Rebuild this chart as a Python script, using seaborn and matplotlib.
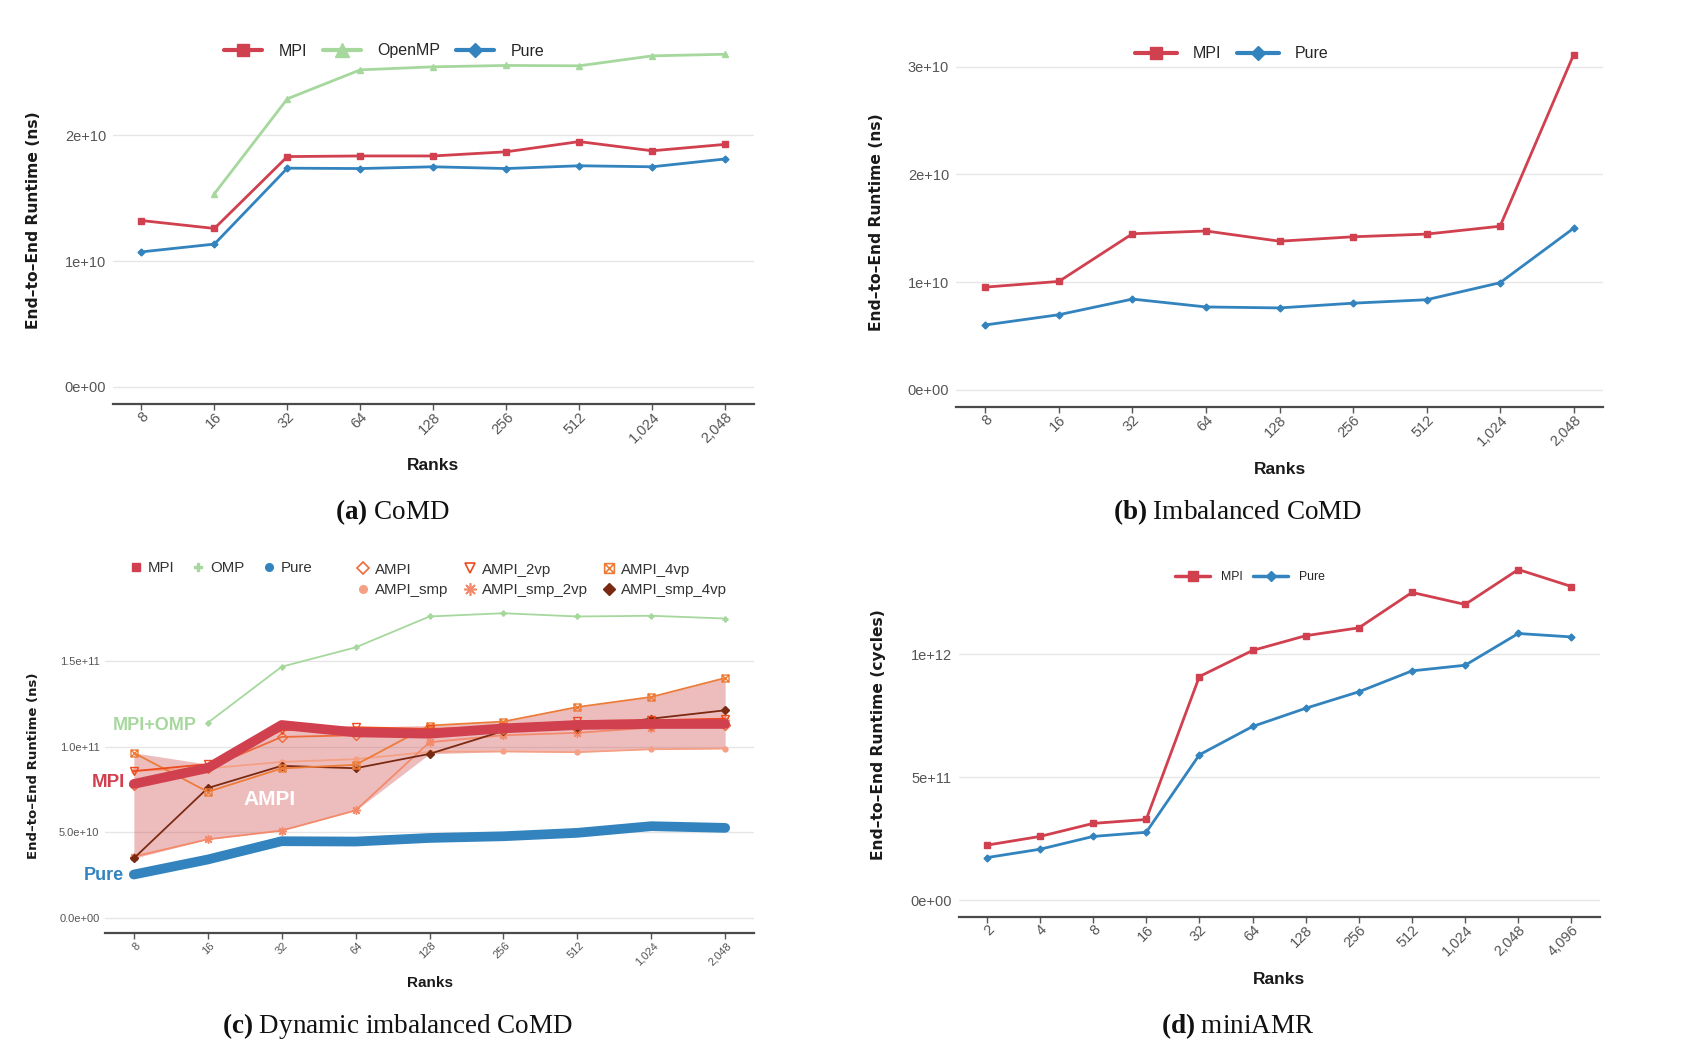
import numpy as np
import pandas as pd
import seaborn as sns
import matplotlib
matplotlib.use("Agg")
import matplotlib.pyplot as plt
from matplotlib.lines import Line2D
from matplotlib.path import Path
from matplotlib.transforms import ScaledTranslation

# ---------------- data ----------------
ranks_abc = ["8", "16", "32", "64", "128", "256", "512", "1,024", "2,048"]
ranks_d = ["2", "4", "8", "16", "32", "64", "128", "256", "512", "1,024", "2,048", "4,096"]

# (a) CoMD  (ns)
a_mpi = [1.322e10, 1.259e10, 1.830e10, 1.835e10, 1.835e10, 1.868e10, 1.949e10, 1.876e10, 1.927e10]
a_openmp = [np.nan, 1.535e10, 2.289e10, 2.519e10, 2.543e10, 2.554e10, 2.551e10, 2.630e10, 2.643e10]
a_pure = [1.073e10, 1.135e10, 1.738e10, 1.735e10, 1.749e10, 1.735e10, 1.757e10, 1.749e10, 1.811e10]

# (b) Imbalanced CoMD (ns)
b_mpi = [0.954e10, 1.007e10, 1.449e10, 1.475e10, 1.380e10, 1.421e10, 1.446e10, 1.519e10, 3.110e10]
b_pure = [0.603e10, 0.698e10, 0.843e10, 0.770e10, 0.761e10, 0.805e10, 0.837e10, 0.995e10, 1.500e10]

# (c) Dynamic imbalanced CoMD (units of 1e9 ns)
c_mpi = [78.3, 87.6, 112.8, 108.5, 107.7, 110.8, 112.8, 113.4, 113.4]
c_omp = [np.nan, 114.1, 146.9, 158.2, 176.3, 178.2, 176.3, 176.7, 175.1]
c_pure = [25.3, 34.1, 44.8, 44.6, 46.7, 47.7, 49.7, 53.6, 52.6]
c_ampi = [77.6, 87.5, 105.8, 106.8, 109.7, 110.7, 111.3, 112.6, 112.6]
c_ampi_2vp = [85.8, 89.9, 109.7, 111.5, 110.5, 111.7, 115.0, 115.6, 116.5]
c_ampi_4vp = [96.5, 73.7, 87.4, 89.5, 112.5, 114.8, 123.3, 129.2, 140.3]
c_ampi_smp = [86.0, 87.4, 91.2, 92.8, 97.1, 97.3, 96.9, 98.6, 99.0]
c_ampi_smp_2vp = [35.8, 45.9, 51.0, 62.8, 102.7, 106.8, 108.2, 111.3, 115.6]
c_ampi_smp_4vp = [34.8, 75.9, 88.9, 87.5, 95.9, 109.3, 110.7, 116.5, 121.4]

# (d) miniAMR (cycles, units of 1e12)
d_mpi = [0.2236, 0.259, 0.312, 0.328, 0.909, 1.015, 1.075, 1.107, 1.251, 1.202, 1.344, 1.275]
d_pure = [0.173, 0.207, 0.259, 0.276, 0.591, 0.706, 0.780, 0.847, 0.932, 0.955, 1.084, 1.070]

yt_a = [0, 1e10, 2e10]; ytl_a = ["0e+00", "1e+10", "2e+10"]
yt_b = [0, 1e10, 2e10, 3e10]; ytl_b = ["0e+00", "1e+10", "2e+10", "3e+10"]
yt_c = [0, 5e10, 1e11, 1.5e11]; ytl_c = ["0.0e+00", "5.0e+10", "1.0e+11", "1.5e+11"]
yt_d = [0, 5e11, 1e12]; ytl_d = ["0e+00", "5e+11", "1e+12"]

# ---------------- style ----------------
sns.set_theme(style="white")
plt.rcParams["font.family"] = ["Liberation Sans", "DejaVu Sans"]
plt.rcParams["mathtext.fontset"] = "custom"
plt.rcParams["mathtext.rm"] = "Liberation Serif"
plt.rcParams["mathtext.bf"] = "Liberation Serif:bold"

C_MPI = "#D1404F"
C_PURE = "#3283BE"
C_OMP = "#A6D89E"
C_AMPI = "#EF6A3A"
C_AMPI2 = "#EE4A1E"
C_AMPI4 = "#EC7C3A"
C_SMP = "#F5A084"
C_SMP2 = "#F48A6C"
C_SMP4 = "#7A2A12"
GRID = "#E6E6E6"
TICKC = "#555555"

sqx = Path([(-1, -1), (1, -1), (1, 1), (-1, 1), (-1, -1), (-1, -1), (1, 1), (-1, 1), (1, -1)],
           [Path.MOVETO, Path.LINETO, Path.LINETO, Path.LINETO, Path.CLOSEPOLY,
            Path.MOVETO, Path.LINETO, Path.MOVETO, Path.LINETO])
AST = (8, 2, 0)

W, H = 1701, 1050
fig = plt.figure(figsize=(W / 100, H / 100), dpi=100)


def make_ax(l, t, r, b):
    return fig.add_axes([l / W, 1 - b / H, (r - l) / W, (b - t) / H])


def style_ax(ax, labels, pad, ymax, yt, ytl, ylab, ylabx, xlabely,
             tick_fs, ylab_fs, xlab_fs, ypad=5):
    n = len(labels)
    ax.set_xlim(-pad, n - 1 + pad)
    ax.set_ylim(-0.05 * ymax, 1.05 * ymax)
    ax.set_yticks(yt)
    ax.set_yticklabels(ytl)
    ax.set_xticks(range(n))
    ax.set_xticklabels(labels)
    for s in ["left", "right", "top"]:
        ax.spines[s].set_visible(False)
    ax.spines["bottom"].set_color("#4A4A4A")
    ax.spines["bottom"].set_linewidth(1.6)
    ax.grid(axis="y", color=GRID, lw=1.0)
    ax.grid(axis="x", visible=False)
    ax.set_axisbelow(True)
    ax.tick_params(axis="x", bottom=True, length=4, width=1, color=TICKC,
                   labelsize=tick_fs, labelcolor=TICKC, pad=4)
    ax.tick_params(axis="y", left=False, length=0, labelsize=tick_fs, labelcolor=TICKC, pad=ypad)
    off = ScaledTranslation(5 / 100, 0, fig.dpi_scale_trans)
    for lab in ax.get_xticklabels():
        lab.set_rotation(45)
        lab.set_ha("right")
        lab.set_va("center")
        lab.set_rotation_mode("anchor")
        lab.set_transform(lab.get_transform() + off)
    ax.set_ylabel(ylab, fontsize=ylab_fs, fontweight="bold", family="DejaVu Sans", color="#1a1a1a")
    ax.yaxis.set_label_coords(ylabx, 0.5)
    ax.set_xlabel("Ranks", fontsize=xlab_fs, fontweight="bold", color="#1a1a1a")
    ax.xaxis.label.set_va("center")
    ax.xaxis.set_label_coords(0.5, xlabely)


def line(ax, vals, color, marker, ms, lw, mfc=None, mew=1.0, z=3):
    df = pd.DataFrame({"x": np.arange(len(vals)), "y": vals}).dropna()
    sns.lineplot(data=df, x="x", y="y", ax=ax, color=color, marker=marker,
                 markersize=ms, linewidth=lw, markeredgecolor=color,
                 markerfacecolor=color if mfc is None else mfc,
                 markeredgewidth=mew, errorbar=None, legend=False, zorder=z)


# ---------------- (a) ----------------
ax_a = make_ax(113, 37.6, 753.5, 403.6)
line(ax_a, a_openmp, C_OMP, "^", 4, 2.0)
line(ax_a, a_mpi, C_MPI, "s", 4.5, 2.0)
line(ax_a, a_pure, C_PURE, "D", 3.5, 2.0)
style_ax(ax_a, ranks_abc, 0.39, np.nanmax(a_openmp), yt_a, ytl_a,
         "End\u2013to\u2013End Runtime (ns)", -0.112, -0.168, 10.5, 11.2, 12.5)

# ---------------- (b) ----------------
ax_b = make_ax(956, 38, 1603, 406.7)
line(ax_b, b_mpi, C_MPI, "s", 4.5, 2.0)
line(ax_b, b_pure, C_PURE, "D", 3.5, 2.0)
style_ax(ax_b, ranks_abc, 0.40, np.nanmax(b_mpi), yt_b, ytl_b,
         "End\u2013to\u2013End Runtime (ns)", -0.111, -0.169, 10.5, 11.2, 12.5)

# ---------------- (c) ----------------
ax_c = make_ax(105, 598, 754, 933)
scale = 1e9
ampi_all = np.array([c_ampi, c_ampi_2vp, c_ampi_4vp, c_ampi_smp, c_ampi_smp_2vp, c_ampi_smp_4vp]) * scale
xs = np.arange(len(ranks_abc))
ax_c.fill_between(xs, np.nanmin(ampi_all, axis=0), np.nanmax(ampi_all, axis=0),
                  color="#CF4A4A", alpha=0.36, lw=0, zorder=1)
line(ax_c, np.array(c_pure) * scale, C_PURE, None, 0, 7.0, z=2)
line(ax_c, np.array(c_omp) * scale, C_OMP, "P", 3.5, 1.3, z=3)
line(ax_c, np.array(c_ampi_smp) * scale, C_SMP, "o", 3.5, 1.3, z=3)
line(ax_c, np.array(c_ampi_smp_2vp) * scale, C_SMP2, AST, 6.5, 1.3, z=3)
line(ax_c, np.array(c_ampi_smp_4vp) * scale, C_SMP4, "D", 4.5, 1.3, z=4)
line(ax_c, np.array(c_ampi) * scale, C_AMPI, "D", 5, 1.3, mfc="none", z=4)
line(ax_c, np.array(c_ampi_4vp) * scale, C_AMPI4, sqx, 5, 1.3, mfc="none", z=4)
line(ax_c, np.array(c_ampi_2vp) * scale, C_AMPI2, "v", 6, 1.3, mfc="none", z=4)
line(ax_c, np.array(c_mpi) * scale, C_MPI, None, 0, 7.0, z=5)
style_ax(ax_c, ranks_abc, 0.39, np.nanmax(np.array(c_omp) * scale), yt_c, ytl_c,
         "End\u2013to\u2013End Runtime (ns)", -0.100, -0.149, 8, 9.5, 11, ypad=4)
ax_c.text(0.85, 112.3e9, "MPI+OMP", color=C_OMP, fontsize=13, fontweight="bold",
          ha="right", va="center", zorder=6)
ax_c.text(-0.12, 79e9, "MPI", color=C_MPI, fontsize=13.5, fontweight="bold",
          ha="right", va="center", clip_on=False, zorder=6)
ax_c.text(-0.135, 24.6e9, "Pure", color=C_PURE, fontsize=13, fontweight="bold",
          ha="right", va="center", clip_on=False, zorder=6)
ax_c.text(1.83, 69e9, "AMPI", color="white", fontsize=15, fontweight="bold",
          ha="center", va="center", zorder=6)

# ---------------- (d) ----------------
ax_d = make_ax(958.6, 553, 1599.6, 916.7)
line(ax_d, np.array(d_mpi) * 1e12, C_MPI, "s", 4.5, 2.0)
line(ax_d, np.array(d_pure) * 1e12, C_PURE, "D", 3.5, 2.0)
style_ax(ax_d, ranks_d, 0.53, np.nanmax(d_mpi) * 1e12, yt_d, ytl_d,
         "End\u2013to\u2013End Runtime (cycles)", -0.113, -0.174, 10.5, 11.2, 12.5)

# ---------------- legends ----------------
def big_handles(names):
    spec = {"MPI": (C_MPI, "s", 9), "OpenMP": (C_OMP, "^", 10), "Pure": (C_PURE, "D", 7)}
    return [Line2D([], [], color=spec[n][0], lw=3, marker=spec[n][1], ms=spec[n][2]) for n in names]

fig.legend(big_handles(["MPI", "OpenMP", "Pure"]), ["MPI", "OpenMP", "Pure"], loc="center",
           bbox_to_anchor=(384 / W, 1 - 51 / H), ncol=3, frameon=False, fontsize=11.5,
           handlelength=2.4, handletextpad=1.0, columnspacing=1.0)
fig.legend(big_handles(["MPI", "Pure"]), ["MPI", "Pure"], loc="center",
           bbox_to_anchor=(1232 / W, 1 - 54 / H), ncol=2, frameon=False, fontsize=11.5,
           handlelength=2.6, handletextpad=1.0, columnspacing=1.0)
hd = [Line2D([], [], color=C_MPI, lw=2.5, marker="s", ms=7),
      Line2D([], [], color=C_PURE, lw=2.5, marker="D", ms=5.5)]
fig.legend(hd, ["MPI", "Pure"], loc="center", bbox_to_anchor=(1250 / W, 1 - 577 / H), ncol=2,
           frameon=False, fontsize=8.8, handlelength=2.9, handletextpad=0.9, columnspacing=0.8)

h1 = [Line2D([], [], ls="none", color=C_MPI, marker="s", ms=5.5),
      Line2D([], [], ls="none", color=C_OMP, marker="P", ms=6),
      Line2D([], [], ls="none", color=C_PURE, marker="o", ms=5.5)]
fig.legend(h1, ["MPI", "OMP", "Pure"], loc="center", bbox_to_anchor=(221 / W, 1 - 568 / H),
           ncol=3, frameon=False, fontsize=10.8, handlelength=0.8, handletextpad=0.4,
           columnspacing=1.2, labelcolor="#333333")
h2 = [Line2D([], [], ls="none", color=C_AMPI, marker="D", ms=6, mfc="none", mew=1.2),
      Line2D([], [], ls="none", color=C_SMP, marker="o", ms=5.5),
      Line2D([], [], ls="none", color=C_AMPI2, marker="v", ms=7, mfc="none", mew=1.2),
      Line2D([], [], ls="none", color=C_SMP2, marker=AST, ms=9, mew=1.2),
      Line2D([], [], ls="none", color=C_AMPI4, marker=sqx, ms=7, mfc="none", mew=1.2),
      Line2D([], [], ls="none", color=C_SMP4, marker="D", ms=6)]
fig.legend(h2, ["AMPI", "AMPI_smp", "AMPI_2vp", "AMPI_smp_2vp", "AMPI_4vp", "AMPI_smp_4vp"],
           loc="center", bbox_to_anchor=(542 / W, 1 - 580 / H), ncol=3, frameon=False,
           fontsize=10.8, handlelength=0.8, handletextpad=0.4, columnspacing=1.0,
           labelspacing=0.45, labelcolor="#333333")

# ---------------- sub-captions ----------------
for x, y, lab, name in [(392, 512, "(a)", "CoMD"), (1238, 512, "(b)", "Imbalanced CoMD"),
                        (398, 1026, "(c)", "Dynamic imbalanced CoMD"), (1238, 1026, "(d)", "miniAMR")]:
    fig.text(x / W, 1 - y / H, r"$\mathbf{" + lab + "}$ " + name, ha="center", va="center",
             fontsize=19.5, family="Liberation Serif", color="#111111")

fig.savefig("out.png", dpi=100, facecolor="white")
